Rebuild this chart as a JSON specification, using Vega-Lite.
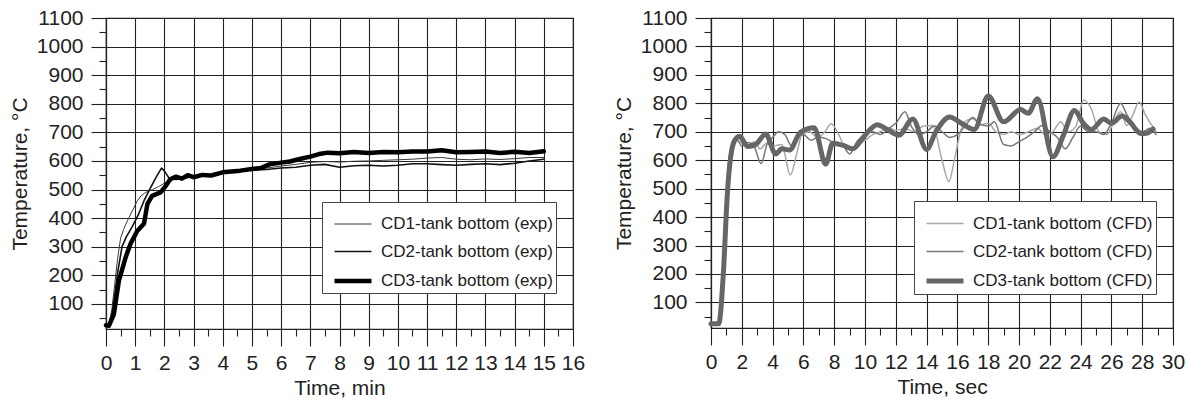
{
  "$schema": "https://vega.github.io/schema/vega-lite/v6.json",
  "background": "white",
  "padding": {"left": 8, "top": 6, "right": 5, "bottom": 5},
  "spacing": 26,
  "resolve": {
    "scale": {"color": "independent", "strokeWidth": "independent", "x": "independent", "y": "independent"},
    "legend": {"color": "independent", "strokeWidth": "independent"}
  },
  "config": {
    "font": "Liberation Sans",
    "view": {"stroke": "#222", "strokeWidth": 1.2},
    "axis": {
      "labelFont": "Liberation Sans", "labelFontSize": 21, "labelColor": "#222",
      "titleFont": "Liberation Sans", "titleFontSize": 21, "titleFontWeight": "normal", "titleColor": "#222",
      "gridColor": "#222", "gridWidth": 1.1, "tickColor": "#222", "tickWidth": 1.1,
      "domainColor": "#222", "domainWidth": 1.2,
      "labelOverlap": false, "labelFlush": false, "labelBound": false
    },
    "legend": {
      "labelFont": "Liberation Sans", "labelFontSize": 17, "labelColor": "#222",
      "fillColor": "white", "strokeColor": "#444", "padding": 3, "symbolOffset": 7,
      "symbolType": "stroke", "symbolSize": 1369, "rowPadding": -14, "labelOffset": 7, "labelLimit": 400,
      "labelExpr": "datum.label + '  '"
    }
  },
  "datasets": {
    "exp": [
      {"s": "CD1-tank bottom (exp)", "t": 0, "v": 25},
      {"s": "CD1-tank bottom (exp)", "t": 0.1, "v": 30},
      {"s": "CD1-tank bottom (exp)", "t": 0.2, "v": 80},
      {"s": "CD1-tank bottom (exp)", "t": 0.3, "v": 170},
      {"s": "CD1-tank bottom (exp)", "t": 0.4, "v": 260},
      {"s": "CD1-tank bottom (exp)", "t": 0.5, "v": 330},
      {"s": "CD1-tank bottom (exp)", "t": 0.6, "v": 360},
      {"s": "CD1-tank bottom (exp)", "t": 0.73, "v": 390},
      {"s": "CD1-tank bottom (exp)", "t": 0.9, "v": 425},
      {"s": "CD1-tank bottom (exp)", "t": 1.07, "v": 460},
      {"s": "CD1-tank bottom (exp)", "t": 1.2, "v": 478},
      {"s": "CD1-tank bottom (exp)", "t": 1.36, "v": 490},
      {"s": "CD1-tank bottom (exp)", "t": 1.6, "v": 500},
      {"s": "CD1-tank bottom (exp)", "t": 1.8, "v": 510},
      {"s": "CD1-tank bottom (exp)", "t": 2.0, "v": 522},
      {"s": "CD1-tank bottom (exp)", "t": 2.3, "v": 535},
      {"s": "CD1-tank bottom (exp)", "t": 2.6, "v": 540},
      {"s": "CD1-tank bottom (exp)", "t": 3.0, "v": 545},
      {"s": "CD1-tank bottom (exp)", "t": 3.5, "v": 551},
      {"s": "CD1-tank bottom (exp)", "t": 4.0, "v": 557},
      {"s": "CD1-tank bottom (exp)", "t": 4.5, "v": 563},
      {"s": "CD1-tank bottom (exp)", "t": 5.0, "v": 570},
      {"s": "CD1-tank bottom (exp)", "t": 5.5, "v": 575},
      {"s": "CD1-tank bottom (exp)", "t": 6.0, "v": 582},
      {"s": "CD1-tank bottom (exp)", "t": 6.5, "v": 588},
      {"s": "CD1-tank bottom (exp)", "t": 7.0, "v": 595},
      {"s": "CD1-tank bottom (exp)", "t": 7.5, "v": 598},
      {"s": "CD1-tank bottom (exp)", "t": 8.0, "v": 596},
      {"s": "CD1-tank bottom (exp)", "t": 8.5, "v": 599},
      {"s": "CD1-tank bottom (exp)", "t": 9.0, "v": 600},
      {"s": "CD1-tank bottom (exp)", "t": 9.5, "v": 602},
      {"s": "CD1-tank bottom (exp)", "t": 10.0, "v": 604},
      {"s": "CD1-tank bottom (exp)", "t": 10.5, "v": 606},
      {"s": "CD1-tank bottom (exp)", "t": 11.0, "v": 610},
      {"s": "CD1-tank bottom (exp)", "t": 11.5, "v": 612},
      {"s": "CD1-tank bottom (exp)", "t": 12.0, "v": 606},
      {"s": "CD1-tank bottom (exp)", "t": 12.5, "v": 604},
      {"s": "CD1-tank bottom (exp)", "t": 13.0, "v": 607},
      {"s": "CD1-tank bottom (exp)", "t": 13.5, "v": 605},
      {"s": "CD1-tank bottom (exp)", "t": 14.0, "v": 608},
      {"s": "CD1-tank bottom (exp)", "t": 14.5, "v": 612},
      {"s": "CD1-tank bottom (exp)", "t": 15.0, "v": 612},
      {"s": "CD2-tank bottom (exp)", "t": 0, "v": 25},
      {"s": "CD2-tank bottom (exp)", "t": 0.1, "v": 28},
      {"s": "CD2-tank bottom (exp)", "t": 0.2, "v": 60},
      {"s": "CD2-tank bottom (exp)", "t": 0.3, "v": 130},
      {"s": "CD2-tank bottom (exp)", "t": 0.4, "v": 210},
      {"s": "CD2-tank bottom (exp)", "t": 0.55, "v": 300},
      {"s": "CD2-tank bottom (exp)", "t": 0.7, "v": 335},
      {"s": "CD2-tank bottom (exp)", "t": 0.9, "v": 370},
      {"s": "CD2-tank bottom (exp)", "t": 1.1, "v": 410},
      {"s": "CD2-tank bottom (exp)", "t": 1.3, "v": 460},
      {"s": "CD2-tank bottom (exp)", "t": 1.47, "v": 495},
      {"s": "CD2-tank bottom (exp)", "t": 1.7, "v": 540},
      {"s": "CD2-tank bottom (exp)", "t": 1.9, "v": 575},
      {"s": "CD2-tank bottom (exp)", "t": 2.0, "v": 565},
      {"s": "CD2-tank bottom (exp)", "t": 2.16, "v": 540},
      {"s": "CD2-tank bottom (exp)", "t": 2.4, "v": 535},
      {"s": "CD2-tank bottom (exp)", "t": 2.7, "v": 540},
      {"s": "CD2-tank bottom (exp)", "t": 3.0, "v": 545},
      {"s": "CD2-tank bottom (exp)", "t": 3.5, "v": 550},
      {"s": "CD2-tank bottom (exp)", "t": 4.0, "v": 558},
      {"s": "CD2-tank bottom (exp)", "t": 4.5, "v": 563},
      {"s": "CD2-tank bottom (exp)", "t": 5.0, "v": 568},
      {"s": "CD2-tank bottom (exp)", "t": 5.5, "v": 570},
      {"s": "CD2-tank bottom (exp)", "t": 6.0, "v": 575},
      {"s": "CD2-tank bottom (exp)", "t": 6.5, "v": 578},
      {"s": "CD2-tank bottom (exp)", "t": 7.0, "v": 585},
      {"s": "CD2-tank bottom (exp)", "t": 7.5, "v": 588},
      {"s": "CD2-tank bottom (exp)", "t": 8.0, "v": 578},
      {"s": "CD2-tank bottom (exp)", "t": 8.5, "v": 583},
      {"s": "CD2-tank bottom (exp)", "t": 9.0, "v": 585},
      {"s": "CD2-tank bottom (exp)", "t": 9.5, "v": 582},
      {"s": "CD2-tank bottom (exp)", "t": 10.0, "v": 585},
      {"s": "CD2-tank bottom (exp)", "t": 10.5, "v": 590},
      {"s": "CD2-tank bottom (exp)", "t": 11.0, "v": 590},
      {"s": "CD2-tank bottom (exp)", "t": 11.5, "v": 587},
      {"s": "CD2-tank bottom (exp)", "t": 12.0, "v": 585},
      {"s": "CD2-tank bottom (exp)", "t": 12.5, "v": 588},
      {"s": "CD2-tank bottom (exp)", "t": 13.0, "v": 590},
      {"s": "CD2-tank bottom (exp)", "t": 13.5, "v": 587},
      {"s": "CD2-tank bottom (exp)", "t": 14.0, "v": 592},
      {"s": "CD2-tank bottom (exp)", "t": 14.5, "v": 600},
      {"s": "CD2-tank bottom (exp)", "t": 15.0, "v": 606},
      {"s": "CD3-tank bottom (exp)", "t": 0, "v": 25},
      {"s": "CD3-tank bottom (exp)", "t": 0.1, "v": 23},
      {"s": "CD3-tank bottom (exp)", "t": 0.27, "v": 64},
      {"s": "CD3-tank bottom (exp)", "t": 0.44, "v": 180},
      {"s": "CD3-tank bottom (exp)", "t": 0.67, "v": 262},
      {"s": "CD3-tank bottom (exp)", "t": 0.84, "v": 310},
      {"s": "CD3-tank bottom (exp)", "t": 1.07, "v": 355},
      {"s": "CD3-tank bottom (exp)", "t": 1.3, "v": 380},
      {"s": "CD3-tank bottom (exp)", "t": 1.42, "v": 450},
      {"s": "CD3-tank bottom (exp)", "t": 1.58, "v": 478},
      {"s": "CD3-tank bottom (exp)", "t": 1.87, "v": 490},
      {"s": "CD3-tank bottom (exp)", "t": 2.05, "v": 513},
      {"s": "CD3-tank bottom (exp)", "t": 2.2, "v": 536},
      {"s": "CD3-tank bottom (exp)", "t": 2.4, "v": 545},
      {"s": "CD3-tank bottom (exp)", "t": 2.6, "v": 538},
      {"s": "CD3-tank bottom (exp)", "t": 2.8, "v": 550},
      {"s": "CD3-tank bottom (exp)", "t": 3.0, "v": 543},
      {"s": "CD3-tank bottom (exp)", "t": 3.3, "v": 551},
      {"s": "CD3-tank bottom (exp)", "t": 3.6, "v": 549},
      {"s": "CD3-tank bottom (exp)", "t": 4.0, "v": 560},
      {"s": "CD3-tank bottom (exp)", "t": 4.3, "v": 563},
      {"s": "CD3-tank bottom (exp)", "t": 4.6, "v": 566},
      {"s": "CD3-tank bottom (exp)", "t": 5.0, "v": 572},
      {"s": "CD3-tank bottom (exp)", "t": 5.3, "v": 575},
      {"s": "CD3-tank bottom (exp)", "t": 5.6, "v": 588},
      {"s": "CD3-tank bottom (exp)", "t": 6.0, "v": 594},
      {"s": "CD3-tank bottom (exp)", "t": 6.3, "v": 598},
      {"s": "CD3-tank bottom (exp)", "t": 6.6, "v": 606},
      {"s": "CD3-tank bottom (exp)", "t": 7.0, "v": 615},
      {"s": "CD3-tank bottom (exp)", "t": 7.3, "v": 624},
      {"s": "CD3-tank bottom (exp)", "t": 7.6, "v": 629},
      {"s": "CD3-tank bottom (exp)", "t": 8.0, "v": 627},
      {"s": "CD3-tank bottom (exp)", "t": 8.5, "v": 631},
      {"s": "CD3-tank bottom (exp)", "t": 9.0, "v": 628},
      {"s": "CD3-tank bottom (exp)", "t": 9.5, "v": 631},
      {"s": "CD3-tank bottom (exp)", "t": 10.0, "v": 630},
      {"s": "CD3-tank bottom (exp)", "t": 10.5, "v": 633},
      {"s": "CD3-tank bottom (exp)", "t": 11.0, "v": 633},
      {"s": "CD3-tank bottom (exp)", "t": 11.5, "v": 637},
      {"s": "CD3-tank bottom (exp)", "t": 12.0, "v": 630},
      {"s": "CD3-tank bottom (exp)", "t": 12.5, "v": 631},
      {"s": "CD3-tank bottom (exp)", "t": 13.0, "v": 633},
      {"s": "CD3-tank bottom (exp)", "t": 13.5, "v": 628},
      {"s": "CD3-tank bottom (exp)", "t": 14.0, "v": 632},
      {"s": "CD3-tank bottom (exp)", "t": 14.5, "v": 628},
      {"s": "CD3-tank bottom (exp)", "t": 15.0, "v": 634}
    ],
    "cfd": [
      {"s": "CD1-tank bottom (CFD)", "t": 0, "v": 25},
      {"s": "CD1-tank bottom (CFD)", "t": 0.5, "v": 25},
      {"s": "CD1-tank bottom (CFD)", "t": 0.8, "v": 250},
      {"s": "CD1-tank bottom (CFD)", "t": 1.0, "v": 480},
      {"s": "CD1-tank bottom (CFD)", "t": 1.3, "v": 640},
      {"s": "CD1-tank bottom (CFD)", "t": 1.6, "v": 672},
      {"s": "CD1-tank bottom (CFD)", "t": 2.0, "v": 660},
      {"s": "CD1-tank bottom (CFD)", "t": 2.4, "v": 650},
      {"s": "CD1-tank bottom (CFD)", "t": 2.8, "v": 665},
      {"s": "CD1-tank bottom (CFD)", "t": 3.2, "v": 640},
      {"s": "CD1-tank bottom (CFD)", "t": 3.6, "v": 660},
      {"s": "CD1-tank bottom (CFD)", "t": 4.0, "v": 650},
      {"s": "CD1-tank bottom (CFD)", "t": 4.6, "v": 655},
      {"s": "CD1-tank bottom (CFD)", "t": 5.15, "v": 548},
      {"s": "CD1-tank bottom (CFD)", "t": 5.6, "v": 630},
      {"s": "CD1-tank bottom (CFD)", "t": 5.9, "v": 690},
      {"s": "CD1-tank bottom (CFD)", "t": 6.4, "v": 700},
      {"s": "CD1-tank bottom (CFD)", "t": 6.9, "v": 680},
      {"s": "CD1-tank bottom (CFD)", "t": 7.4, "v": 700},
      {"s": "CD1-tank bottom (CFD)", "t": 7.8, "v": 728},
      {"s": "CD1-tank bottom (CFD)", "t": 8.3, "v": 690},
      {"s": "CD1-tank bottom (CFD)", "t": 8.7, "v": 645},
      {"s": "CD1-tank bottom (CFD)", "t": 9.2, "v": 635},
      {"s": "CD1-tank bottom (CFD)", "t": 9.6, "v": 655},
      {"s": "CD1-tank bottom (CFD)", "t": 10.0, "v": 670},
      {"s": "CD1-tank bottom (CFD)", "t": 10.5, "v": 690},
      {"s": "CD1-tank bottom (CFD)", "t": 11.0, "v": 700},
      {"s": "CD1-tank bottom (CFD)", "t": 11.5, "v": 715},
      {"s": "CD1-tank bottom (CFD)", "t": 12.0, "v": 705},
      {"s": "CD1-tank bottom (CFD)", "t": 12.6, "v": 712},
      {"s": "CD1-tank bottom (CFD)", "t": 13.2, "v": 700},
      {"s": "CD1-tank bottom (CFD)", "t": 13.8, "v": 720},
      {"s": "CD1-tank bottom (CFD)", "t": 14.4, "v": 722},
      {"s": "CD1-tank bottom (CFD)", "t": 15.0, "v": 600},
      {"s": "CD1-tank bottom (CFD)", "t": 15.45, "v": 525},
      {"s": "CD1-tank bottom (CFD)", "t": 15.8, "v": 600},
      {"s": "CD1-tank bottom (CFD)", "t": 16.2, "v": 700},
      {"s": "CD1-tank bottom (CFD)", "t": 16.6, "v": 740},
      {"s": "CD1-tank bottom (CFD)", "t": 17.0, "v": 746},
      {"s": "CD1-tank bottom (CFD)", "t": 17.5, "v": 725},
      {"s": "CD1-tank bottom (CFD)", "t": 18.0, "v": 730},
      {"s": "CD1-tank bottom (CFD)", "t": 18.5, "v": 700},
      {"s": "CD1-tank bottom (CFD)", "t": 19.0, "v": 690},
      {"s": "CD1-tank bottom (CFD)", "t": 19.5, "v": 700},
      {"s": "CD1-tank bottom (CFD)", "t": 20.0, "v": 690},
      {"s": "CD1-tank bottom (CFD)", "t": 20.6, "v": 700},
      {"s": "CD1-tank bottom (CFD)", "t": 21.2, "v": 712},
      {"s": "CD1-tank bottom (CFD)", "t": 21.7, "v": 690},
      {"s": "CD1-tank bottom (CFD)", "t": 22.2, "v": 700},
      {"s": "CD1-tank bottom (CFD)", "t": 22.7, "v": 735},
      {"s": "CD1-tank bottom (CFD)", "t": 23.2, "v": 700},
      {"s": "CD1-tank bottom (CFD)", "t": 23.7, "v": 720},
      {"s": "CD1-tank bottom (CFD)", "t": 24.2, "v": 812},
      {"s": "CD1-tank bottom (CFD)", "t": 24.7, "v": 780},
      {"s": "CD1-tank bottom (CFD)", "t": 25.2, "v": 700},
      {"s": "CD1-tank bottom (CFD)", "t": 25.7, "v": 690},
      {"s": "CD1-tank bottom (CFD)", "t": 26.2, "v": 740},
      {"s": "CD1-tank bottom (CFD)", "t": 26.6, "v": 770},
      {"s": "CD1-tank bottom (CFD)", "t": 27.0, "v": 722},
      {"s": "CD1-tank bottom (CFD)", "t": 27.4, "v": 760},
      {"s": "CD1-tank bottom (CFD)", "t": 27.8, "v": 805},
      {"s": "CD1-tank bottom (CFD)", "t": 28.2, "v": 760},
      {"s": "CD1-tank bottom (CFD)", "t": 28.6, "v": 725},
      {"s": "CD1-tank bottom (CFD)", "t": 28.9, "v": 700},
      {"s": "CD2-tank bottom (CFD)", "t": 0, "v": 25},
      {"s": "CD2-tank bottom (CFD)", "t": 0.5, "v": 25},
      {"s": "CD2-tank bottom (CFD)", "t": 0.8, "v": 260},
      {"s": "CD2-tank bottom (CFD)", "t": 1.0, "v": 490},
      {"s": "CD2-tank bottom (CFD)", "t": 1.3, "v": 650},
      {"s": "CD2-tank bottom (CFD)", "t": 1.6, "v": 680},
      {"s": "CD2-tank bottom (CFD)", "t": 2.0, "v": 650},
      {"s": "CD2-tank bottom (CFD)", "t": 2.4, "v": 662},
      {"s": "CD2-tank bottom (CFD)", "t": 2.8, "v": 648},
      {"s": "CD2-tank bottom (CFD)", "t": 3.25, "v": 588},
      {"s": "CD2-tank bottom (CFD)", "t": 3.65, "v": 658},
      {"s": "CD2-tank bottom (CFD)", "t": 4.0, "v": 680},
      {"s": "CD2-tank bottom (CFD)", "t": 4.4, "v": 700},
      {"s": "CD2-tank bottom (CFD)", "t": 4.8, "v": 690},
      {"s": "CD2-tank bottom (CFD)", "t": 5.2, "v": 652},
      {"s": "CD2-tank bottom (CFD)", "t": 5.6, "v": 680},
      {"s": "CD2-tank bottom (CFD)", "t": 6.0, "v": 690},
      {"s": "CD2-tank bottom (CFD)", "t": 6.5, "v": 670},
      {"s": "CD2-tank bottom (CFD)", "t": 7.0, "v": 682},
      {"s": "CD2-tank bottom (CFD)", "t": 7.5, "v": 675},
      {"s": "CD2-tank bottom (CFD)", "t": 8.0, "v": 660},
      {"s": "CD2-tank bottom (CFD)", "t": 8.5, "v": 655},
      {"s": "CD2-tank bottom (CFD)", "t": 9.0, "v": 622},
      {"s": "CD2-tank bottom (CFD)", "t": 9.5, "v": 668},
      {"s": "CD2-tank bottom (CFD)", "t": 10.0, "v": 690},
      {"s": "CD2-tank bottom (CFD)", "t": 10.5, "v": 700},
      {"s": "CD2-tank bottom (CFD)", "t": 11.0, "v": 690},
      {"s": "CD2-tank bottom (CFD)", "t": 11.5, "v": 710},
      {"s": "CD2-tank bottom (CFD)", "t": 12.0, "v": 730},
      {"s": "CD2-tank bottom (CFD)", "t": 12.6, "v": 770},
      {"s": "CD2-tank bottom (CFD)", "t": 13.0, "v": 720},
      {"s": "CD2-tank bottom (CFD)", "t": 13.5, "v": 690},
      {"s": "CD2-tank bottom (CFD)", "t": 14.0, "v": 700},
      {"s": "CD2-tank bottom (CFD)", "t": 14.5, "v": 720},
      {"s": "CD2-tank bottom (CFD)", "t": 15.0, "v": 700},
      {"s": "CD2-tank bottom (CFD)", "t": 15.5, "v": 680},
      {"s": "CD2-tank bottom (CFD)", "t": 16.0, "v": 690},
      {"s": "CD2-tank bottom (CFD)", "t": 16.5, "v": 720},
      {"s": "CD2-tank bottom (CFD)", "t": 17.0, "v": 750},
      {"s": "CD2-tank bottom (CFD)", "t": 17.5, "v": 725},
      {"s": "CD2-tank bottom (CFD)", "t": 18.0, "v": 720},
      {"s": "CD2-tank bottom (CFD)", "t": 18.4, "v": 735},
      {"s": "CD2-tank bottom (CFD)", "t": 19.0, "v": 655},
      {"s": "CD2-tank bottom (CFD)", "t": 19.5, "v": 650},
      {"s": "CD2-tank bottom (CFD)", "t": 20.0, "v": 665},
      {"s": "CD2-tank bottom (CFD)", "t": 20.5, "v": 680},
      {"s": "CD2-tank bottom (CFD)", "t": 21.0, "v": 700},
      {"s": "CD2-tank bottom (CFD)", "t": 21.5, "v": 722},
      {"s": "CD2-tank bottom (CFD)", "t": 22.0, "v": 700},
      {"s": "CD2-tank bottom (CFD)", "t": 22.5, "v": 680},
      {"s": "CD2-tank bottom (CFD)", "t": 23.0, "v": 640},
      {"s": "CD2-tank bottom (CFD)", "t": 23.5, "v": 680},
      {"s": "CD2-tank bottom (CFD)", "t": 24.0, "v": 720},
      {"s": "CD2-tank bottom (CFD)", "t": 24.5, "v": 700},
      {"s": "CD2-tank bottom (CFD)", "t": 25.0, "v": 700},
      {"s": "CD2-tank bottom (CFD)", "t": 25.5, "v": 690},
      {"s": "CD2-tank bottom (CFD)", "t": 26.0, "v": 730},
      {"s": "CD2-tank bottom (CFD)", "t": 26.6, "v": 800},
      {"s": "CD2-tank bottom (CFD)", "t": 27.0, "v": 760},
      {"s": "CD2-tank bottom (CFD)", "t": 27.5, "v": 720},
      {"s": "CD2-tank bottom (CFD)", "t": 28.0, "v": 700},
      {"s": "CD2-tank bottom (CFD)", "t": 28.5, "v": 712},
      {"s": "CD2-tank bottom (CFD)", "t": 28.9, "v": 690},
      {"s": "CD3-tank bottom (CFD)", "t": 0, "v": 25},
      {"s": "CD3-tank bottom (CFD)", "t": 0.5, "v": 25},
      {"s": "CD3-tank bottom (CFD)", "t": 0.8, "v": 200},
      {"s": "CD3-tank bottom (CFD)", "t": 1.06, "v": 480},
      {"s": "CD3-tank bottom (CFD)", "t": 1.5, "v": 665},
      {"s": "CD3-tank bottom (CFD)", "t": 1.85, "v": 684},
      {"s": "CD3-tank bottom (CFD)", "t": 2.4, "v": 648},
      {"s": "CD3-tank bottom (CFD)", "t": 2.9, "v": 655},
      {"s": "CD3-tank bottom (CFD)", "t": 3.55, "v": 692},
      {"s": "CD3-tank bottom (CFD)", "t": 4.2, "v": 622},
      {"s": "CD3-tank bottom (CFD)", "t": 4.6, "v": 640},
      {"s": "CD3-tank bottom (CFD)", "t": 5.1, "v": 636},
      {"s": "CD3-tank bottom (CFD)", "t": 5.8, "v": 698},
      {"s": "CD3-tank bottom (CFD)", "t": 6.7, "v": 714},
      {"s": "CD3-tank bottom (CFD)", "t": 7.45, "v": 586},
      {"s": "CD3-tank bottom (CFD)", "t": 7.9, "v": 660},
      {"s": "CD3-tank bottom (CFD)", "t": 8.6, "v": 652},
      {"s": "CD3-tank bottom (CFD)", "t": 9.2, "v": 640},
      {"s": "CD3-tank bottom (CFD)", "t": 10.0, "v": 688},
      {"s": "CD3-tank bottom (CFD)", "t": 10.8, "v": 725},
      {"s": "CD3-tank bottom (CFD)", "t": 11.5, "v": 706},
      {"s": "CD3-tank bottom (CFD)", "t": 12.2, "v": 688},
      {"s": "CD3-tank bottom (CFD)", "t": 13.1, "v": 745},
      {"s": "CD3-tank bottom (CFD)", "t": 14.0, "v": 638},
      {"s": "CD3-tank bottom (CFD)", "t": 14.6, "v": 700},
      {"s": "CD3-tank bottom (CFD)", "t": 15.5, "v": 752},
      {"s": "CD3-tank bottom (CFD)", "t": 16.2, "v": 732},
      {"s": "CD3-tank bottom (CFD)", "t": 17.1, "v": 708},
      {"s": "CD3-tank bottom (CFD)", "t": 18.0, "v": 826},
      {"s": "CD3-tank bottom (CFD)", "t": 19.0, "v": 735},
      {"s": "CD3-tank bottom (CFD)", "t": 20.1, "v": 778},
      {"s": "CD3-tank bottom (CFD)", "t": 20.6, "v": 765},
      {"s": "CD3-tank bottom (CFD)", "t": 21.2, "v": 816},
      {"s": "CD3-tank bottom (CFD)", "t": 22.2, "v": 612},
      {"s": "CD3-tank bottom (CFD)", "t": 22.9, "v": 690},
      {"s": "CD3-tank bottom (CFD)", "t": 23.6, "v": 775},
      {"s": "CD3-tank bottom (CFD)", "t": 24.2, "v": 728},
      {"s": "CD3-tank bottom (CFD)", "t": 24.7, "v": 708},
      {"s": "CD3-tank bottom (CFD)", "t": 25.5, "v": 745},
      {"s": "CD3-tank bottom (CFD)", "t": 26.0, "v": 730},
      {"s": "CD3-tank bottom (CFD)", "t": 26.7, "v": 755},
      {"s": "CD3-tank bottom (CFD)", "t": 27.2, "v": 735},
      {"s": "CD3-tank bottom (CFD)", "t": 27.9, "v": 694},
      {"s": "CD3-tank bottom (CFD)", "t": 28.3, "v": 695},
      {"s": "CD3-tank bottom (CFD)", "t": 28.7, "v": 710}
    ]
  },
  "hconcat": [
    {
      "width": 467,
      "height": 311,
      "data": {"name": "exp"},
      "mark": {"type": "line", "strokeJoin": "round", "strokeCap": "round"},
      "encoding": {
        "x": {
          "field": "t", "type": "quantitative",
          "scale": {"domain": [0, 16], "nice": false, "zero": false},
          "axis": {
            "title": "Time, min",
            "values": [0,0.5,1,1.5,2,2.5,3,3.5,4,4.5,5,5.5,6,6.5,7,7.5,8,8.5,9,9.5,10,10.5,11,11.5,12,12.5,13,13.5,14,14.5,15,15.5,16],
            "labelExpr": "datum.value % 1 === 0 ? '' + datum.value : ''",
            "grid": true,
            "gridOpacity": {"condition": {"test": "datum.value % 1 === 0", "value": 1}, "value": 0},
            "tickSize": {"condition": {"test": "datum.value % 1 === 0", "value": 17}, "value": 7},
            "labelPadding": 6,
            "titlePadding": 4
          }
        },
        "y": {
          "field": "v", "type": "quantitative",
          "scale": {"domain": [12, 1100], "nice": false, "zero": false},
          "axis": {
            "title": "Temperature, °C",
            "values": [50,100,150,200,250,300,350,400,450,500,550,600,650,700,750,800,850,900,950,1000,1050,1100],
            "labelExpr": "datum.value % 100 === 0 ? '' + datum.value : ''",
            "grid": true,
            "gridOpacity": {"condition": {"test": "datum.value % 100 === 0", "value": 1}, "value": 0},
            "tickSize": {"condition": {"test": "datum.value % 100 === 0", "value": 15}, "value": 7},
            "labelPadding": 8,
            "titlePadding": 6
          }
        },
        "color": {
          "field": "s", "type": "nominal",
          "scale": {"type": "ordinal", "domain": ["CD1-tank bottom (exp)", "CD2-tank bottom (exp)", "CD3-tank bottom (exp)"], "range": ["#3a3a3a", "#111111", "#000000"]},
          "legend": {"title": null, "orient": "none", "legendX": 216, "legendY": 184}
        },
        "strokeWidth": {
          "field": "s", "type": "nominal",
          "scale": {"type": "ordinal", "domain": ["CD1-tank bottom (exp)", "CD2-tank bottom (exp)", "CD3-tank bottom (exp)"], "range": [1, 1.6, 4.5]},
          "legend": {"title": null, "orient": "none", "legendX": 216, "legendY": 184}
        }
      }
    },
    {
      "width": 462,
      "height": 310,
      "data": {"name": "cfd"},
      "mark": {"type": "line", "interpolate": "monotone", "strokeJoin": "round", "strokeCap": "round"},
      "encoding": {
        "x": {
          "field": "t", "type": "quantitative",
          "scale": {"domain": [0, 30], "nice": false, "zero": false},
          "axis": {
            "title": "Time, sec",
            "values": [0,1,2,3,4,5,6,7,8,9,10,11,12,13,14,15,16,17,18,19,20,21,22,23,24,25,26,27,28,29,30],
            "labelExpr": "datum.value % 2 === 0 ? '' + datum.value : ''",
            "grid": true,
            "gridOpacity": {"condition": {"test": "datum.value % 2 === 0", "value": 1}, "value": 0},
            "tickSize": {"condition": {"test": "datum.value % 2 === 0", "value": 17}, "value": 7},
            "labelPadding": 6,
            "titlePadding": 4
          }
        },
        "y": {
          "field": "v", "type": "quantitative",
          "scale": {"domain": [10, 1100], "nice": false, "zero": false},
          "axis": {
            "title": "Temperature, °C",
            "values": [50,100,150,200,250,300,350,400,450,500,550,600,650,700,750,800,850,900,950,1000,1050,1100],
            "labelExpr": "datum.value % 100 === 0 ? '' + datum.value : ''",
            "grid": true,
            "gridOpacity": {"condition": {"test": "datum.value % 100 === 0", "value": 1}, "value": 0},
            "tickSize": {"condition": {"test": "datum.value % 100 === 0", "value": 16}, "value": 7},
            "labelPadding": 8,
            "titlePadding": 6
          }
        },
        "color": {
          "field": "s", "type": "nominal",
          "scale": {"type": "ordinal", "domain": ["CD1-tank bottom (CFD)", "CD2-tank bottom (CFD)", "CD3-tank bottom (CFD)"], "range": ["#a8a8a8", "#777777", "#666666"]},
          "legend": {"title": null, "orient": "none", "legendX": 203, "legendY": 183}
        },
        "strokeWidth": {
          "field": "s", "type": "nominal",
          "scale": {"type": "ordinal", "domain": ["CD1-tank bottom (CFD)", "CD2-tank bottom (CFD)", "CD3-tank bottom (CFD)"], "range": [1.5, 1.5, 5]},
          "legend": {"title": null, "orient": "none", "legendX": 203, "legendY": 183}
        }
      }
    }
  ]
}
